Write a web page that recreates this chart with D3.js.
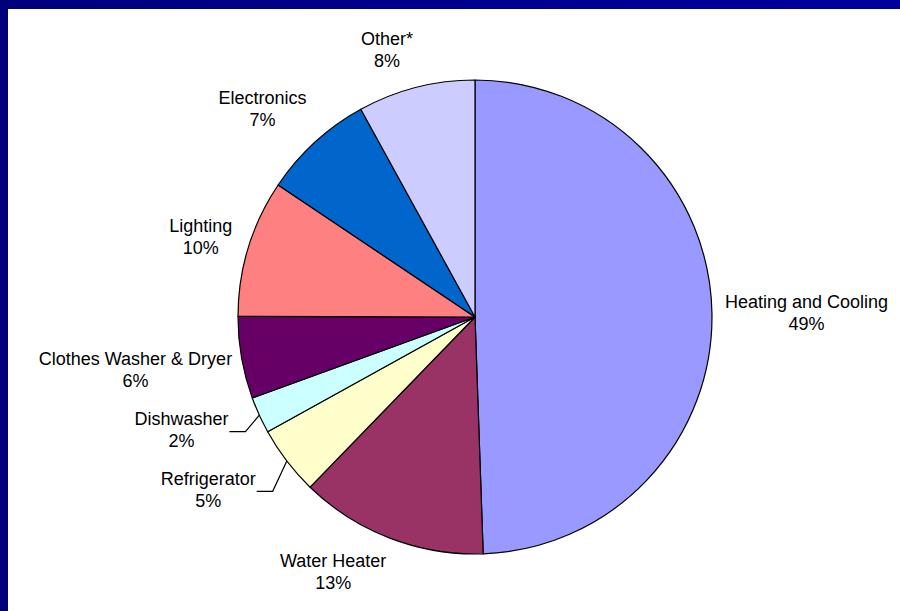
<!DOCTYPE html>
<html>
<head>
<meta charset="utf-8">
<script src="https://cdn.jsdelivr.net/npm/d3@7"></script>
<style>
  body { margin: 0; padding: 0; overflow: hidden; }
  svg { display: block; }
  .label { font-family: "Liberation Sans", Arial, sans-serif; font-size: 18px; fill: #000; }
</style>
</head>
<body>
<div class="chart"></div>
<script>
// slices, clockwise from 12 o'clock
var categories = ["Heating and Cooling", "Water Heater", "Refrigerator", "Dishwasher",
                  "Clothes Washer & Dryer", "Lighting", "Electronics", "Other*"];
var values = [49.45, 12.8, 4.7, 2.5, 5.6, 9.35, 7.6, 8.0];
var percentLabels = ["49%", "13%", "5%", "2%", "6%", "10%", "7%", "8%"];
var colors = ["#9999FF", "#993366", "#FFFFCC", "#CCFFFF", "#660066", "#FF8080", "#0066CC", "#CCCCFF"];

// label tweaks (Excel best fit puts some labels off the plain radial spot)
var labelNudge = [[3, 2], [-34, 7], [-33, 12], [-26, 4], [-1, 9], [-8, 0], [-16, -10], [-20, -7]];
var hasLeader = [false, false, true, true, false, false, false, false];

var width = 900, height = 611;
var cx = 475, cy = 317, radius = 237;

var svg = d3.select(".chart").append("svg")
    .attr("width", width)
    .attr("height", height);

var defs = svg.append("defs");
var grad = defs.append("linearGradient")
    .attr("id", "frame")
    .attr("x1", "0%").attr("x2", "100%")
    .attr("y1", "0%").attr("y2", "0%");
grad.append("stop").attr("offset", "0%").attr("stop-color", "#00007C");
grad.append("stop").attr("offset", "100%").attr("stop-color", "#00009E");

svg.append("rect")
    .attr("width", width).attr("height", height)
    .attr("fill", "url(#frame)");

svg.append("rect")
    .attr("x", 8).attr("y", 9)
    .attr("width", width - 8).attr("height", height - 9)
    .attr("fill", "#fff");

var pie = d3.pie().sort(null).value(function(d) { return d; });
var arcs = pie(values);

var arc = d3.arc().innerRadius(0).outerRadius(radius);

var g = svg.append("g")
    .attr("transform", "translate(" + cx + "," + cy + ")");

g.selectAll("path.slice")
    .data(arcs)
    .enter()
    .append("path")
    .attr("class", "slice")
    .attr("d", arc)
    .attr("fill", function(d, i) { return colors[i]; })
    .attr("stroke", "#000")
    .attr("stroke-width", 1.2)
    .attr("stroke-linejoin", "round");

// labels
var gap = 10, halfH = 20;
arcs.forEach(function(d, i) {
  var a = (d.startAngle + d.endAngle) / 2;
  var s = Math.sin(a), c = Math.cos(a);

  var t = g.append("text").attr("class", "label").attr("text-anchor", "middle");
  var l1 = t.append("tspan").attr("x", 0).text(categories[i]);
  var l2 = t.append("tspan").attr("x", 0).text(percentLabels[i]);

  var w1 = l1.node().getComputedTextLength();
  var halfW = Math.max(w1, l2.node().getComputedTextLength()) / 2;
  var x = (radius + gap) * s + halfW * s + labelNudge[i][0];
  var y = -(radius + gap) * c - halfH * c + labelNudge[i][1];

  l1.attr("x", x).attr("y", y - 6.5);
  l2.attr("x", x).attr("y", y + 15.5);

  if (hasLeader[i]) {
    var right = x + w1 / 2;
    var pts = [[right + 1, y], [right + 17, y], [radius * s, -radius * c]];
    g.append("path")
        .attr("d", d3.line()(pts))
        .attr("fill", "none")
        .attr("stroke", "#000")
        .attr("stroke-width", 1.2);
  }
});
</script>
</body>
</html>
